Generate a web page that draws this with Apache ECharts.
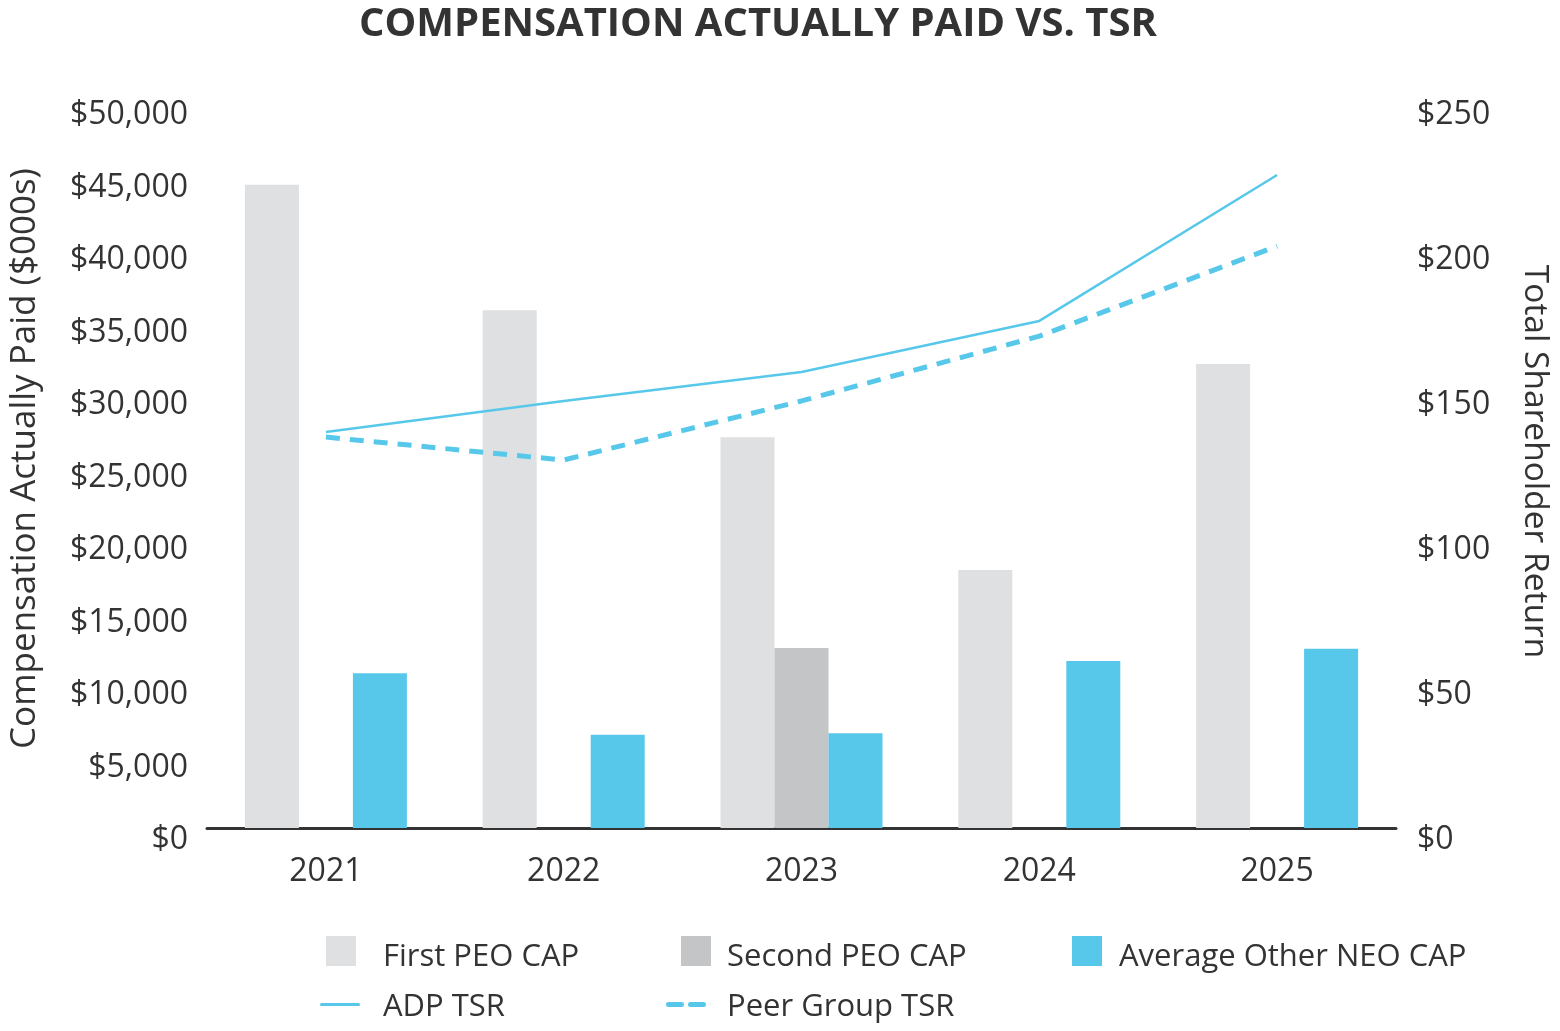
<!DOCTYPE html>
<html>
<head>
<meta charset="utf-8">
<script src="https://cdn.jsdelivr.net/npm/echarts@6/dist/echarts.min.js"></script>
<style>
html,body{margin:0;padding:0;background:#fff;}
#chart{width:1560px;height:1031px;}
</style>
</head>
<body>
<div id="chart"></div>
<script>
const years = ['2021', '2022', '2023', '2024', '2025'];
const firstPeoCap = [44850, 36100, 27250, 18000, 32350];
const secondPeoCap = [null, null, 12550, null, null];
const avgNeoCap = [10800, 6500, 6600, 11650, 12500];
const adpTsr = [138.1, 148.9, 159.0, 176.8, 227.7];
const peerTsr = [136.3, 128.3, 148.9, 171.5, 202.9];

const FONT = '"Open Sans", "Noto Sans", sans-serif';
const TXT = '#333333';
const C1 = '#dfe0e2', C2 = '#c4c5c7', C3 = '#58c8ea';

function lg(name, left, top, w, h, icon, padTop, padLeft) {
  return { data: [{ name: name, icon: icon }], left: left, top: top, itemWidth: w, itemHeight: h,
    itemGap: 0, selectedMode: false, padding: 0,
    formatter: '{t|{name}}',
    textStyle: { color: TXT, fontSize: 31, fontFamily: FONT, padding: [0, 0, 0, padLeft],
      rich: { t: { color: TXT, fontSize: 31, fontFamily: FONT, padding: [padTop, 0, 0, 0] } } } };
}
const LINE_ICON = 'path://M1.5,0H38.5A1.5,1.5,0,0,1,38.5,3H1.5A1.5,1.5,0,0,1,1.5,0Z';
const DASH_ICON = 'path://M2.5,0H15.5A2.5,2.5,0,0,1,15.5,5H2.5A2.5,2.5,0,0,1,2.5,0Z' +
  'M24.5,0H37.5A2.5,2.5,0,0,1,37.5,5H24.5A2.5,2.5,0,0,1,24.5,0Z';

const hiddenVal = { type: 'value', axisLine: { show: false }, axisTick: { show: false },
  splitLine: { show: false }, axisLabel: { show: false } };

const chart = echarts.init(document.getElementById('chart'), null, { renderer: 'canvas' });
chart.setOption({
  animation: false,
  backgroundColor: '#ffffff',
  title: {
    text: 'COMPENSATION ACTUALLY PAID VS. TSR',
    left: 354, top: 0,
    textStyle: { color: TXT, fontSize: 40, fontWeight: 'bold', fontFamily: FONT }
  },
  legend: [
    lg('First PEO CAP', 326, 936, 30, 30, 'rect', 12, 22),
    lg('Second PEO CAP', 681, 936, 30, 30, 'rect', 12, 11),
    lg('Average Other NEO CAP', 1072, 936, 30, 30, 'rect', 12, 12),
    lg('ADP TSR', 320, 992, 40, 3, LINE_ICON, 6, 18),
    lg('Peer Group TSR', 666, 992, 40, 5, DASH_ICON, 6, 16)
  ],
  grid: [
    { left: 207, right: 164, top: 111, bottom: 203, containLabel: false },
    { left: 207, right: 164, top: 115, bottom: 191, containLabel: false }
  ],
  xAxis: [
    {
      type: 'category', data: years, gridIndex: 0,
      axisLine: { show: true, lineStyle: { color: TXT, width: 3 } },
      axisTick: { show: false },
      axisLabel: { color: TXT, fontSize: 32, fontFamily: FONT, margin: 28 }
    },
    { type: 'category', data: years, gridIndex: 1, show: false }
  ],
  yAxis: [
    Object.assign({ gridIndex: 0, min: 0, max: 50000, interval: 5000 }, hiddenVal),
    Object.assign({ gridIndex: 0, min: 0, max: 250, interval: 50, position: 'right' }, hiddenVal),
    {
      type: 'value', gridIndex: 1, min: 0, max: 50000, interval: 5000,
      name: 'Compensation Actually Paid ($000s)', nameLocation: 'middle', nameGap: 167,
      nameTextStyle: { color: TXT, fontSize: 35, fontFamily: FONT, padding: [0, 0, 0, 38] },
      axisLine: { show: false }, axisTick: { show: false }, splitLine: { show: false },
      axisLabel: { color: TXT, fontSize: 32, fontFamily: FONT, margin: 22,
        formatter: v => '$' + v.toLocaleString('en-US') }
    },
    {
      type: 'value', gridIndex: 1, min: 0, max: 250, interval: 50, position: 'right',
      name: 'Total Shareholder Return', nameLocation: 'middle', nameGap: 122, nameRotate: -90,
      nameTextStyle: { color: TXT, fontSize: 33.5, fontFamily: FONT, padding: [0, 32, 0, 0] },
      axisLine: { show: false }, axisTick: { show: false }, splitLine: { show: false },
      axisLabel: { color: TXT, fontSize: 32, fontFamily: FONT, margin: 21,
        formatter: v => '$' + v }
    }
  ],
  series: [
    { name: 'First PEO CAP', type: 'bar', data: firstPeoCap, barWidth: 54, barGap: '0%',
      itemStyle: { color: C1 } },
    { name: 'Second PEO CAP', type: 'bar', data: secondPeoCap, barWidth: 54, barGap: '0%',
      itemStyle: { color: C2 } },
    { name: 'Average Other NEO CAP', type: 'bar', data: avgNeoCap, barWidth: 54, barGap: '0%',
      itemStyle: { color: C3 } },
    { name: 'ADP TSR', type: 'line', yAxisIndex: 1, data: adpTsr, symbol: 'none',
      lineStyle: { color: C3, width: 2.5 }, itemStyle: { color: C3 }, z: 5 },
    { name: 'Peer Group TSR', type: 'line', yAxisIndex: 1, data: peerTsr, symbol: 'none',
      lineStyle: { color: C3, width: 5, type: [14, 10] }, itemStyle: { color: C3 }, z: 5 }
  ]
});
</script>
</body>
</html>
